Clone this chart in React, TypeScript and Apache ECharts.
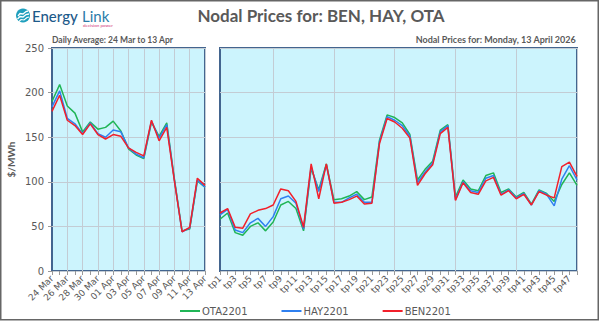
import React, { useEffect, useRef } from "react";
import * as echarts from "echarts";

const dayLabels = ["24 Mar","25 Mar","26 Mar","27 Mar","28 Mar","29 Mar","30 Mar","31 Mar","01 Apr","02 Apr","03 Apr","04 Apr","05 Apr","06 Apr","07 Apr","08 Apr","09 Apr","10 Apr","11 Apr","12 Apr","13 Apr"];
const dailyOTA = [190,209,185,177,156,167,159,161,168,157,137,130,126,167,151,166,103,45,47,101,94];
const dailyHAY = [184,202,171,165,154,166,154,150,158,156,138,131,127,168,149,164,102,44,48,102,94];
const dailyBEN = [179,197,169,163,153,165,153,148,153,151,138,133,129,169,146,161,101,44,49,104,96];

const tpLabels = Array.from({ length: 48 }, (_, i) => "tp" + (i + 1));
const tpOTA = [58,65,43,40,50,54,45,55,74,78,70,45,115,91,120,80,81,84,89,80,83,147,175,172,166,153,102,114,123,158,164,83,102,92,90,107,110,88,92,83,88,75,91,87,78,97,110,96];
const tpHAY = [63,69,46,43,54,59,50,61,81,84,76,47,117,89,119,77,77,82,86,77,77,145,173,169,163,151,99,111,121,156,163,80,100,90,88,104,107,86,91,82,87,74,90,86,73,103,118,102];
const tpBEN = [65,70,49,48,64,68,70,74,92,90,78,49,120,81,120,76,77,80,84,75,76,143,171,167,160,149,96,109,119,154,161,79,99,88,86,101,105,85,90,81,86,74,89,85,82,117,122,106];

const GREEN = "#20b556";
const BLUE = "#2f80f0";
const RED = "#f2202b";
const GRAY = "#595959";
const BORDER = "#43658f";
const FILL = "#ccf4fd";
const GRID = "#c3ccd4";

export default function App() {
  const ref = useRef<HTMLDivElement>(null);
  useEffect(() => {
    if (!ref.current) return;
    const chart = echarts.init(ref.current, null, { renderer: "svg" });
    const font = "Lato, 'Open Sans', sans-serif";
    const xCommon = (labels: string[], splitInt: (i: number) => boolean, gi: number) => ({
      type: "category",
      data: labels,
      gridIndex: gi,
      boundaryGap: false,
      axisLine: { show: false },
      axisTick: { show: true, interval: 0, length: 4, lineStyle: { color: "#999" } },
      axisLabel: { interval: 1, rotate: 45, fontSize: 9, color: GRAY, margin: 6, fontFamily: "'DejaVu Sans', sans-serif" },
      splitLine: { show: true, interval: (i: number) => splitInt(i), lineStyle: { color: GRID, width: 1 } },
    });
    const yCommon = (gi: number, showLabels: boolean) => ({
      type: "value",
      gridIndex: gi,
      min: 0,
      max: 250,
      interval: 50,
      name: showLabels ? "$/MWh" : "",
      nameLocation: "middle",
      nameRotate: 90,
      nameGap: 36,
      nameTextStyle: { fontSize: 10, fontWeight: "bold", color: GRAY, fontFamily: font },
      axisLine: { show: false },
      axisTick: { show: showLabels, length: 4, lineStyle: { color: "#999" } },
      axisLabel: { show: showLabels, fontSize: 10, color: GRAY, margin: 8, fontFamily: "'DejaVu Sans', sans-serif" },
      splitLine: { show: true, lineStyle: { color: GRID, width: 1 } },
    });
    const line = (name: string, data: number[], color: string, gi: number) => ({
      name,
      type: "line",
      xAxisIndex: gi,
      yAxisIndex: gi,
      data,
      symbol: "none",
      lineStyle: { color, width: 1.5 },
      itemStyle: { color },
    });
    chart.setOption({
      animation: false,
      backgroundColor: "#ffffff",
      textStyle: { fontFamily: font },
      title: [
        { text: "Nodal Prices for: BEN, HAY, OTA", left: 321, textAlign: "center", top: 7, padding: 0, textStyle: { fontSize: 17, fontWeight: "bold", color: GRAY, fontFamily: font } },
        { text: "Daily Average: 24 Mar to 13 Apr", left: 52, top: 35, padding: 0, textStyle: { fontSize: 8.5, fontWeight: "bold", color: GRAY, fontFamily: font } },
        { text: "Nodal Prices for: Monday, 13 April 2026", right: 24, top: 35, padding: 0, textStyle: { fontSize: 9, fontWeight: "bold", color: GRAY, fontFamily: font } },
      ],
      legend: {
        data: ["OTA2201", "HAY2201", "BEN2201"],
        left: 180,
        top: 306,
        padding: 0,
        itemWidth: 20,
        itemHeight: 2,
        itemGap: 34,
        icon: "rect",
        textStyle: { fontSize: 10, color: GRAY, fontFamily: "'DejaVu Sans', sans-serif", padding: [0, 0, 0, -3] },
      },
      grid: [
        { left: 52, top: 48, width: 153, height: 223, show: true, backgroundColor: FILL, borderColor: BORDER, borderWidth: 2, z: 0 },
        { left: 220, top: 48, width: 357, height: 223, show: true, backgroundColor: FILL, borderColor: BORDER, borderWidth: 2, z: 0 },
      ],
      xAxis: [
        xCommon(dayLabels, (i) => i % 2 === 0 && i > 0, 0),
        xCommon(tpLabels, (i) => i % 8 === 7, 1),
      ],
      yAxis: [yCommon(0, true), yCommon(1, false)],
      series: [
        line("OTA2201", dailyOTA, GREEN, 0),
        line("HAY2201", dailyHAY, BLUE, 0),
        line("BEN2201", dailyBEN, RED, 0),
        line("OTA2201", tpOTA, GREEN, 1),
        line("HAY2201", tpHAY, BLUE, 1),
        line("BEN2201", tpBEN, RED, 1),
      ],
      graphic: [
        { type: "rect", shape: { x: 0.75, y: 0.75, width: 597.5, height: 319 }, style: { fill: "none", stroke: "#666666", lineWidth: 1.5 }, z: 100, silent: true },
        { type: "circle", shape: { cx: 23, cy: 15.5, r: 7 }, style: { fill: "#1f9fbd" }, z: 101 },
        { type: "polyline", shape: { points: [[18, 16], [20, 13.5], [23, 14], [26, 11.5], [28, 11]] }, style: { stroke: "#ffffff", lineWidth: 1.3, fill: "none" }, z: 102 },
        { type: "polyline", shape: { points: [[17.5, 19], [20, 16.5], [23, 17], [26, 14.5], [29, 14]] }, style: { stroke: "#ffffff", lineWidth: 1.3, fill: "none" }, z: 102 },
        { type: "polyline", shape: { points: [[19, 21.5], [21, 19.5], [24, 20], [27, 17.5], [29, 17]] }, style: { stroke: "#ffffff", lineWidth: 1.1, fill: "none" }, z: 102 },
        { type: "text", x: 32, y: 15.5, style: { text: "Energy", fontSize: 15, fill: "#1d5b8a", fontFamily: font, verticalAlign: "middle", fontWeight: 500 }, z: 101 },
        { type: "text", x: 82, y: 15.5, style: { text: "Link", fontSize: 15, fill: "#2a7ba8", fontFamily: font, verticalAlign: "middle" }, z: 101 },
        { type: "text", x: 98, y: 25.5, style: { text: "decision power", fontSize: 4.5, fill: "#d2367a", fontFamily: font, align: "center", verticalAlign: "middle" }, z: 101 },
      ],
    });
    return () => chart.dispose();
  }, []);
  return <div ref={ref} style={{ position: "fixed", left: 0, top: 0, width: 600, height: 326 }} />;
}
